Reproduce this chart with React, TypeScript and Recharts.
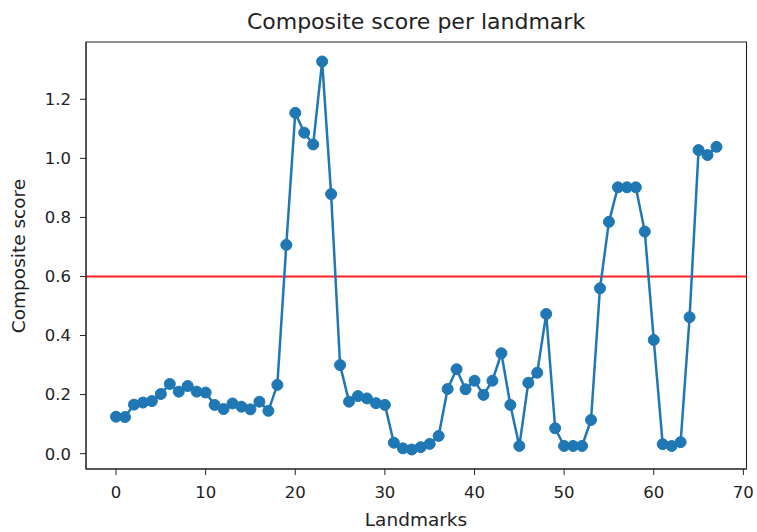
import React from 'react';
import { LineChart, Line, XAxis, YAxis, ReferenceLine, ReferenceArea } from 'recharts';

// composite score for each landmark index (0..67)
const scores = [
  0.125, 0.124, 0.166, 0.173, 0.178, 0.202, 0.236, 0.21, 0.229, 0.21,
  0.207, 0.165, 0.151, 0.17, 0.159, 0.15, 0.176, 0.145, 0.233, 0.707,
  1.154, 1.087, 1.047, 1.328, 0.879, 0.3, 0.176, 0.195, 0.187, 0.171,
  0.165, 0.037, 0.018, 0.014, 0.022, 0.033, 0.06, 0.219, 0.286, 0.218,
  0.247, 0.199, 0.247, 0.34, 0.165, 0.026, 0.24, 0.274, 0.473, 0.086,
  0.026, 0.026, 0.026, 0.114, 0.56, 0.785, 0.902, 0.902, 0.902, 0.752,
  0.385, 0.032, 0.026, 0.039, 0.462, 1.028, 1.011, 1.039,
];
const xTicks = [0, 10, 20, 30, 40, 50, 60, 70];
const yTicks = [0, 0.2, 0.4, 0.6, 0.8, 1.0, 1.2];
const threshold = 0.6;

const X_DOMAIN: [number, number] = [-3.35, 70.35];
const Y_DOMAIN: [number, number] = [-0.052, 1.394];

const BLUE = '#1f77b4';
const FONT = '"DejaVu Sans", sans-serif';
const INK = '#222';

export default function App() {
  const data = scores.map((score, landmark) => ({ landmark, score }));
  const tickStyle = { fontSize: 16.5, fontFamily: FONT, fill: INK };

  return (
    <div style={{ position: 'absolute', left: 0, top: 0, width: 757, height: 532, background: '#fff' }}>
      <LineChart width={757} height={532} data={data} margin={{ top: 42, right: 10.5, bottom: 0, left: 0 }}>
        <XAxis
          type="number"
          dataKey="landmark"
          domain={X_DOMAIN}
          ticks={xTicks}
          allowDataOverflow
          height={63}
          tickSize={6}
          tickMargin={11}
          stroke={INK}
          tick={tickStyle}
        />
        <YAxis
          type="number"
          domain={Y_DOMAIN}
          ticks={yTicks}
          allowDataOverflow
          width={86}
          tickSize={6}
          tickMargin={9}
          stroke={INK}
          tick={tickStyle}
          tickFormatter={(v: number) => v.toFixed(1)}
        />
        <ReferenceLine y={threshold} stroke="#ff2020" strokeWidth={2} />
        <Line
          type="linear"
          dataKey="score"
          stroke={BLUE}
          strokeWidth={2.5}
          dot={{ r: 5.5, fill: BLUE, stroke: BLUE, strokeWidth: 1 }}
          activeDot={false}
          isAnimationActive={false}
        />
        <ReferenceArea
          x1={X_DOMAIN[0]}
          x2={X_DOMAIN[1]}
          y1={Y_DOMAIN[0]}
          y2={Y_DOMAIN[1]}
          fill="none"
          stroke={INK}
          strokeWidth={1.1}
          ifOverflow="visible"
        />
      </LineChart>
      <svg width={757} height={532} style={{ position: 'absolute', left: 0, top: 0, pointerEvents: 'none' }}>
        <text x={416} y={29} textAnchor="middle" fontSize={22} fontFamily={FONT} fill={INK}>
          Composite score per landmark
        </text>
        <text x={416} y={526} textAnchor="middle" fontSize={18.5} fontFamily={FONT} fill={INK}>
          Landmarks
        </text>
        <text transform="translate(25,256) rotate(-90)" textAnchor="middle" fontSize={18.5} fontFamily={FONT} fill={INK}>
          Composite score
        </text>
      </svg>
    </div>
  );
}
